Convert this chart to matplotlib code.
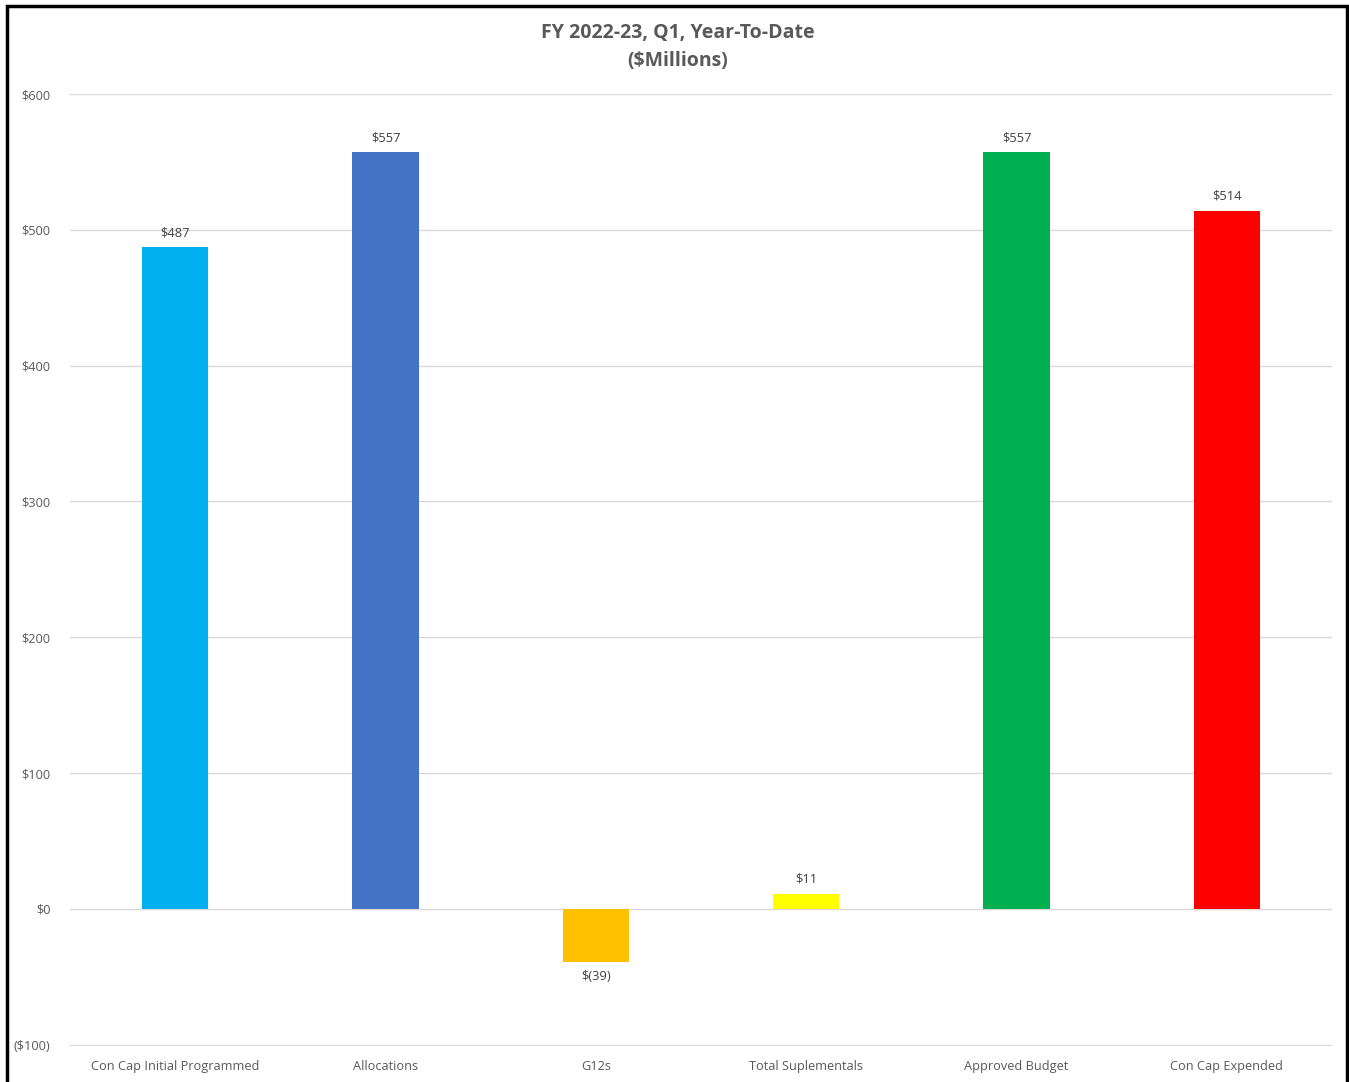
import matplotlib.pyplot as plt
from matplotlib.patches import Rectangle

# ── DATA ──────────────────────────────────────────────────────────────────────
categories = ['Con Cap Initial Programmed', 'Allocations', 'G12s',
              'Total Suplementals', 'Approved Budget', 'Con Cap Expended']
values = [487, 557, -39, 11, 557, 514]
value_labels = ['$487', '$557', '$(39)', '$11', '$557', '$514']
colors = ['#00B0F0', '#4472C4', '#FFC000', '#FFFF00', '#00B050', '#FF0000']
yticks = [-100, 0, 100, 200, 300, 400, 500, 600]
ytick_labels = ['($100)', '$0', '$100', '$200', '$300', '$400', '$500', '$600']
# ─────────────────────────────────────────────────────────────────────────────

plt.rcParams['font.family'] = ['Open Sans', 'DejaVu Sans']
TXT = '#595959'

fig = plt.figure(figsize=(13.49, 10.82), dpi=100)
ax = fig.add_axes([0.0519, 0.0335, 0.9355, 0.8796])

x = range(len(categories))
ax.bar(x, values, width=0.315, color=colors, zorder=3)

for xi, v, lab in zip(x, values, value_labels):
    if v >= 0:
        ax.annotate(lab, (xi, v), xytext=(0, 6), textcoords='offset points',
                    ha='center', va='bottom', fontsize=9.3, color='#404040')
    else:
        ax.annotate(lab, (xi, v), xytext=(0, -6), textcoords='offset points',
                    ha='center', va='top', fontsize=9.3, color='#404040')

ax.set_xlim(-0.5, len(categories) - 0.5)
ax.set_ylim(-100.8, 600)
ax.set_yticks(yticks)
ax.set_yticklabels(ytick_labels)
ax.set_xticks(list(x))
ax.set_xticklabels(categories)
ax.tick_params(axis='both', length=0, labelsize=9.2, labelcolor=TXT)
ax.tick_params(axis='y', pad=14)
ax.tick_params(axis='x', pad=10)
ax.yaxis.grid(True, color='#D9D9D9', linewidth=1.0, zorder=0)
ax.set_axisbelow(True)
for s in ax.spines.values():
    s.set_visible(False)

fig.text(0.5025, 0.9695, 'FY 2022-23, Q1, Year-To-Date', ha='center', va='center',
         fontsize=14, fontweight='bold', color=TXT)
fig.text(0.5025, 0.9435, '($Millions)', ha='center', va='center',
         fontsize=14, fontweight='bold', color=TXT)

# outer border of the chart area
fig.patches.append(Rectangle((7 / 1349, -0.01), 1340 / 1349, 1 - 6 / 1082 + 0.01,
                             transform=fig.transFigure, fill=False,
                             edgecolor='black', linewidth=2.5))

fig.savefig('out.png', dpi=100)
